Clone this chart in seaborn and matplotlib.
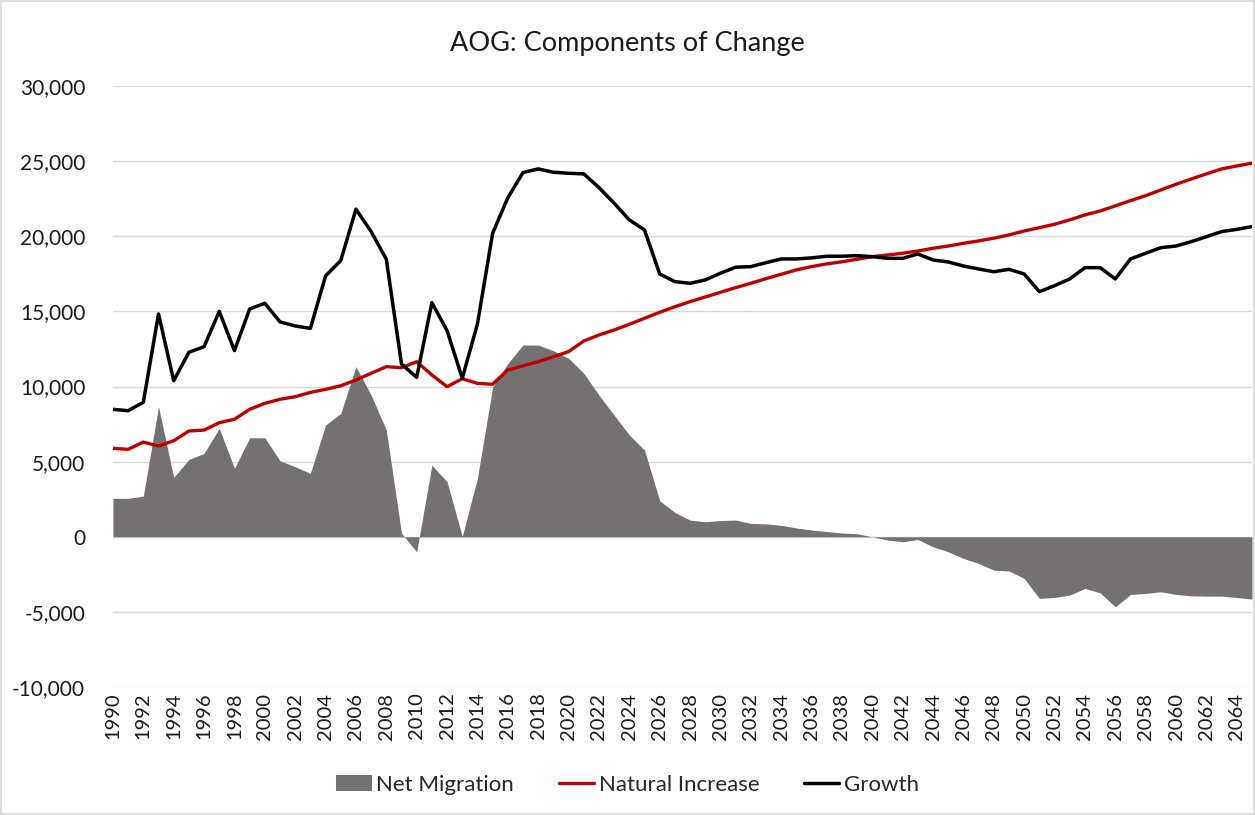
import numpy as np
import pandas as pd
import matplotlib
matplotlib.use("Agg")
import matplotlib.pyplot as plt
from matplotlib.patches import Patch, Rectangle
from matplotlib.lines import Line2D
from matplotlib.ticker import FuncFormatter
import seaborn as sns

years = list(range(1990, 2066))

net_migration = [
    2560, 2560, 2710, 8660, 3950, 5150, 5550, 7220, 4550, 6590,
    6590, 5060, 4660, 4220, 7440, 8210, 11320, 9430, 7100, 230,
    -1000, 4770, 3660, 30, 3900, 9950, 11540, 12760, 12760, 12380,
    11880, 10880, 9430, 8100, 6770, 5770, 2400, 1620, 1110, 1000,
    1080, 1110, 890, 860, 760, 590, 450, 350, 250, 200,
    0, -220, -330, -180, -670, -1000, -1440, -1770, -2220, -2280,
    -2770, -4100, -4040, -3880, -3440, -3730, -4660, -3840, -3770, -3660,
    -3840, -3930, -3950, -3950, -4040, -4150,
]

natural_increase = [
    5885, 5820, 6300, 6040, 6390, 7040, 7100, 7590, 7820, 8480,
    8880, 9150, 9320, 9610, 9810, 10050, 10430, 10880, 11320, 11250,
    11650, 10770, 9990, 10520, 10210, 10150, 11100, 11370, 11650, 11980,
    12320, 13030, 13430, 13760, 14140, 14540, 14940, 15310, 15650, 15960,
    16270, 16580, 16870, 17180, 17470, 17760, 17980, 18160, 18300, 18470,
    18640, 18750, 18870, 19020, 19200, 19350, 19530, 19690, 19870, 20090,
    20350, 20570, 20800, 21090, 21420, 21680, 22020, 22370, 22700, 23080,
    23460, 23810, 24150, 24480, 24680, 24860,
]

growth = [
    8480, 8390, 8950, 14830, 10390, 12280, 12650, 15000, 12390, 15160,
    15540, 14300, 14030, 13870, 17360, 18380, 21800, 20310, 18470, 11500,
    10610, 15580, 13720, 10550, 14160, 20200, 22560, 24240, 24480, 24260,
    24190, 24150, 23240, 22200, 21090, 20420, 17490, 16980, 16870, 17090,
    17540, 17940, 17980, 18240, 18490, 18490, 18560, 18670, 18670, 18710,
    18640, 18530, 18530, 18820, 18420, 18290, 18020, 17820, 17640, 17800,
    17490, 16310, 16710, 17160, 17910, 17910, 17160, 18490, 18870, 19240,
    19350, 19640, 19970, 20310, 20460, 20640,
]

tick_years = list(range(1990, 2065, 2))
y_ticks = [-10000, -5000, 0, 5000, 10000, 15000, 20000, 25000, 30000]

df = pd.DataFrame({
    "Year": years,
    "Net Migration": net_migration,
    "Natural Increase": natural_increase,
    "Growth": growth,
})

sns.set_theme(style="white")
plt.rcParams["font.family"] = ["Lato", "DejaVu Sans"]

fig = plt.figure(figsize=(12.55, 8.15), dpi=100)
ax = fig.add_axes([0.090, 0.157, 0.9076, 0.7375])

area_color = "#767171"
red = "#C00000"

ax.fill_between(df["Year"], 0, df["Net Migration"], color=area_color, linewidth=0, zorder=2)
sns.lineplot(data=df, x="Year", y="Natural Increase", ax=ax, color=red, linewidth=2.4, zorder=3)
sns.lineplot(data=df, x="Year", y="Growth", ax=ax, color="black", linewidth=2.5, zorder=4)

ax.set_xlim(1990, 2065)
ax.set_ylim(-10000, 30000)
ax.set_yticks(y_ticks)
ax.yaxis.set_major_formatter(FuncFormatter(lambda v, p: f"{int(v):,}"))
ax.set_xticks(tick_years)
ax.set_xticklabels([str(y) for y in tick_years], rotation=90)
ax.grid(axis="y", color="#d9d9d9", linewidth=1.0, zorder=0)
ax.grid(axis="x", visible=False)
for s in ax.spines.values():
    s.set_visible(False)
ax.tick_params(axis="y", labelsize=15, colors="#1a1a1a", length=0, pad=20)
ax.tick_params(axis="x", labelsize=14.5, colors="#1a1a1a", length=0, pad=4)
ax.set_xlabel("")
ax.set_ylabel("")

fig.text(0.5, 0.947, "AOG: Components of Change", ha="center", va="center",
         fontsize=19.5, color="#1a1a1a")

handles = [
    Patch(facecolor=area_color, edgecolor="none"),
    Line2D([0], [0], color=red, linewidth=2.4),
    Line2D([0], [0], color="black", linewidth=2.5),
]
fig.legend(handles, ["Net Migration", "Natural Increase", "Growth"],
           loc="center", bbox_to_anchor=(0.5, 0.037), ncol=3, frameon=False,
           fontsize=16, handlelength=1.6, handletextpad=0.2, columnspacing=2.0)

fig.patches.append(Rectangle((0.001, 0.001), 0.998, 0.998, transform=fig.transFigure,
                             fill=False, edgecolor="#d9d9d9", linewidth=1.2))

fig.savefig("out.png", dpi=100)
